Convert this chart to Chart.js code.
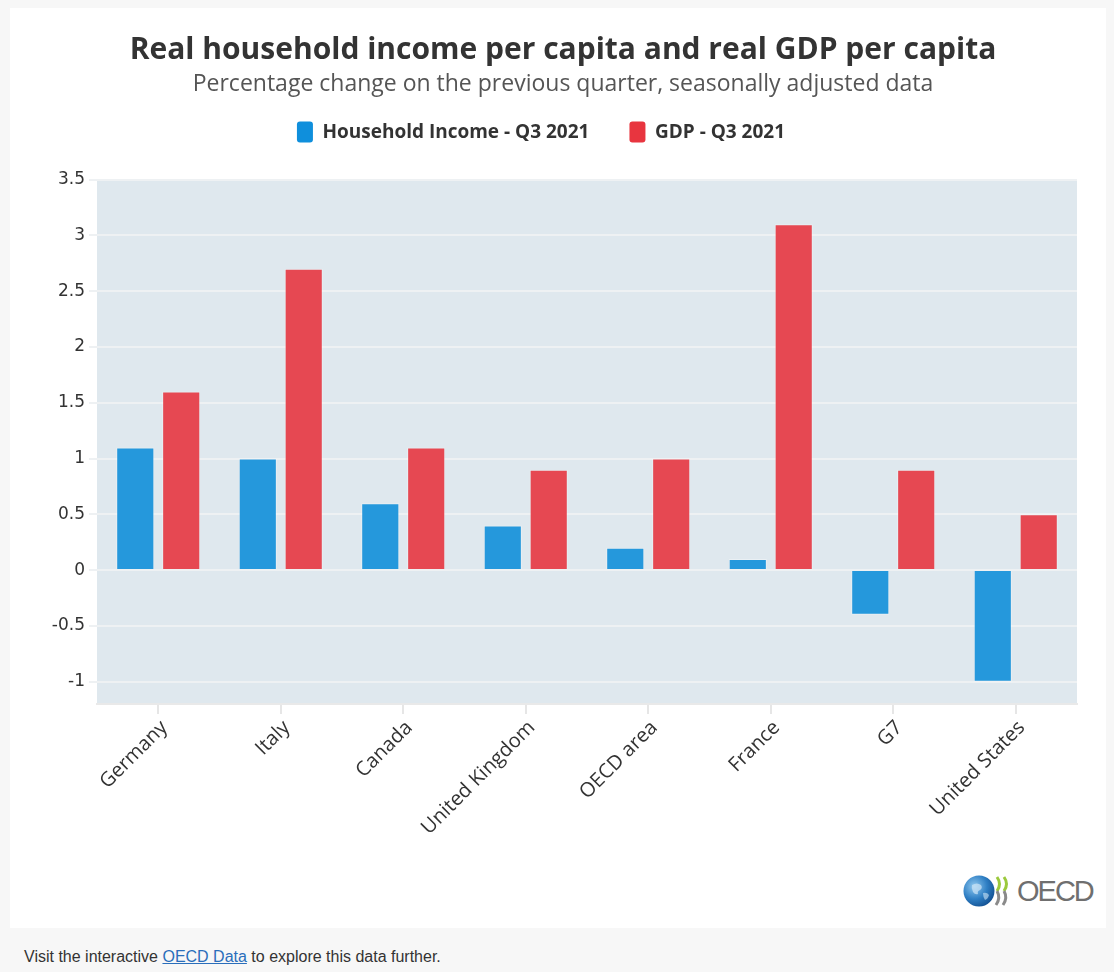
<!DOCTYPE html>
<html>
<head>
<meta charset="utf-8">
<script src="https://cdn.jsdelivr.net/npm/chart.js@4.4.0/dist/chart.umd.min.js"></script>
<style>
    html, body { margin: 0; padding: 0; }
    body {
        width: 1114px; height: 972px; overflow: hidden;
        background: #f7f7f7; position: relative;
        font-family: "Liberation Sans", Arial, sans-serif;
    }
    #card {
        position: absolute; left: 10px; top: 8px; width: 1096px; height: 920px;
        background: #ffffff;
    }
    #wrap {
        position: absolute; left: 20px; top: 0; width: 1094px; height: 870px;
    }
    #footer {
        position: absolute; left: 24px; top: 948px;
        font-size: 16px; color: #333;
    }
    #footer a { color: #2a6ebb; text-decoration: underline; }
    #logo {
        position: absolute; left: 963px; top: 874px; height: 34px;
        display: flex; align-items: center;
    }
    #logo .txt {
        font-family: "Liberation Sans", Arial, sans-serif;
        font-size: 29px; color: #6f6f6f; letter-spacing: -2px; margin-left: 2px;
    }
</style>
</head>
<body>
<div id="card"></div>
<div id="wrap"><canvas id="incomeChart"></canvas></div>

<div id="logo">
    <svg width="52" height="34" viewBox="0 0 52 34">
        <defs>
            <radialGradient id="globe" cx="0.35" cy="0.35" r="0.75">
                <stop offset="0" stop-color="#8fc8ef"/>
                <stop offset="0.55" stop-color="#2f7fc4"/>
                <stop offset="1" stop-color="#0f4b8c"/>
            </radialGradient>
        </defs>
        <circle cx="16" cy="17" r="15.5" fill="url(#globe)"/>
        <path d="M9 11 q5 -3 9 0 q2 3 -1 5 q-3 1 -2 4 q-3 1 -5 -2 q-2 -4 -1 -7z" fill="#cfe6f7" opacity="0.7"/>
        <path d="M20 19 q4 -1 6 2 q-1 4 -4 5 q-2 -3 -2 -7z" fill="#cfe6f7" opacity="0.6"/>
        <path d="M34 3 q5 7 0 14" stroke="#9bc93c" stroke-width="3" fill="none"/>
        <path d="M34 17 q4 7 -1 14" stroke="#8a8a8a" stroke-width="3" fill="none"/>
        <path d="M41 3 q5 7 0 14" stroke="#9bc93c" stroke-width="3" fill="none"/>
        <path d="M41 17 q4 7 -1 14" stroke="#8a8a8a" stroke-width="3" fill="none"/>
    </svg>
    <span class="txt">OECD</span>
</div>

<div id="footer">Visit the interactive <a href="#">OECD Data</a> to explore this data further.</div>

<script>
// ----------------- DATA -----------------
const countries = ["Germany", "Italy", "Canada", "United Kingdom", "OECD area", "France", "G7", "United States"];
const householdIncome = [1.1, 1.0, 0.6, 0.4, 0.2, 0.1, -0.4, -1.0];
const gdp = [1.6, 2.7, 1.1, 0.9, 1.0, 3.1, 0.9, 0.5];
const seriesNames = ["Household Income - Q3 2021", "GDP - Q3 2021"];

// ----------------- STYLE -----------------
const BLUE = "#2598dc";
const RED = "#e64852";
const PLOT_BG = "#dfe8ee";

// grey plot background behind the grid
const plotBackground = {
    id: "plotBackground",
    beforeDraw(chart) {
        const { ctx, chartArea: a } = chart;
        ctx.save();
        ctx.fillStyle = PLOT_BG;
        ctx.fillRect(a.left, a.top, a.right - a.left, a.bottom - a.top);
        ctx.restore();
    }
};

// extra room between legend and plot, legend sits a bit left of centre
const legendTweak = {
    id: "legendTweak",
    beforeInit(chart) {
        const fit = chart.legend.fit;
        chart.legend.fit = function () {
            fit.bind(chart.legend)();
            this.height += 27;
        };
    },
    afterLayout(chart) {
        chart.legend.left -= 22;
        chart.legend.right -= 22;
    }
};

// ----------------- CHART -----------------
const ctx = document.getElementById("incomeChart").getContext("2d");

new Chart(ctx, {
    type: "bar",
    data: {
        labels: countries,
        datasets: [
            {
                label: seriesNames[0],
                data: householdIncome,
                backgroundColor: BLUE,
                borderColor: "rgba(255,255,255,0.35)",
                borderWidth: 1
            },
            {
                label: seriesNames[1],
                data: gdp,
                backgroundColor: RED,
                borderColor: "rgba(255,255,255,0.35)",
                borderWidth: 1
            }
        ]
    },
    options: {
        responsive: true,
        maintainAspectRatio: false,
        animation: false,
        layout: { padding: { top: 14, left: 29, right: 37, bottom: 0 } },
        datasets: { bar: { categoryPercentage: 0.75, barPercentage: 0.83 } },
        plugins: {
            title: {
                display: true,
                text: "Real household income per capita and real GDP per capita",
                color: "#333",
                font: { family: "Open Sans", size: 30, weight: "bold" },
                padding: { top: 18, bottom: 0 }
            },
            subtitle: {
                display: true,
                text: "Percentage change on the previous quarter, seasonally adjusted data",
                color: "#555",
                font: { family: "Open Sans", size: 23 },
                padding: { top: 3, bottom: -17 }
            },
            legend: {
                position: "top",
                labels: {
                    color: "#333",
                    font: { family: "Open Sans", size: 19, weight: "bold" },
                    boxWidth: 16,
                    boxHeight: 21,
                    padding: 40,
                    useBorderRadius: true,
                    borderRadius: 3,
                    generateLabels(chart) {
                        return chart.data.datasets.map((d, i) => ({
                            text: d.label,
                            fillStyle: i === 0 ? "#0f8fdc" : "#e8353f",
                            strokeStyle: "transparent",
                            lineWidth: 0,
                            borderRadius: 3,
                            fontColor: "#333",
                            datasetIndex: i
                        }));
                    }
                }
            },
            tooltip: { enabled: false }
        },
        scales: {
            x: {
                grid: {
                    offset: false,
                    drawOnChartArea: false,
                    drawTicks: true,
                    tickLength: 10,
                    color: "#e6e6e6",
                    lineWidth: 2
                },
                border: { display: true, color: "#e9e9e9", width: 2 },
                ticks: {
                    color: "#333",
                    font: { family: "Open Sans", size: 20 },
                    maxRotation: 45,
                    minRotation: 45,
                    padding: 2,
                    labelOffset: 6
                },
                afterFit(scale) { scale.height = 166; }
            },
            y: {
                min: -1.2,
                max: 3.5,
                grid: {
                    color: "#eef1f3",
                    lineWidth: 2,
                    tickLength: 8
                },
                border: { display: false },
                ticks: {
                    stepSize: 0.5,
                    includeBounds: false,
                    color: "#333",
                    font: { family: "DejaVu Sans", size: 17 },
                    padding: 4,
                    callback: (v) => String(Number(v.toFixed(1)))
                },
                afterFit(scale) { scale.width = 48; }
            }
        }
    },
    plugins: [plotBackground, legendTweak]
});
</script>
</body>
</html>
